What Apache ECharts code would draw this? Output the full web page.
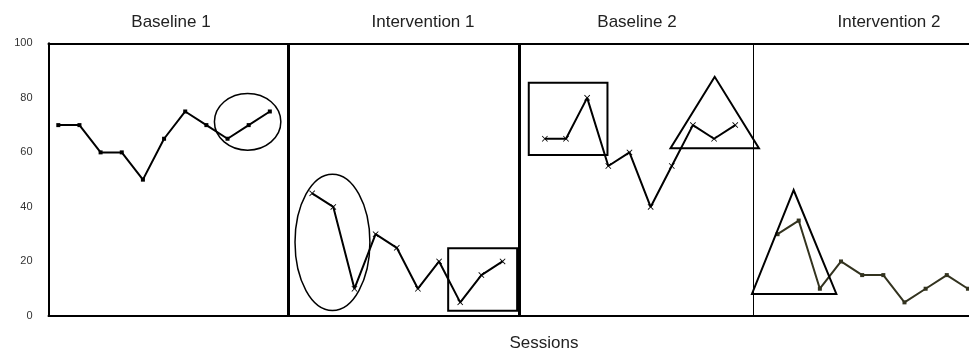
<!DOCTYPE html>
<html>
<head>
<meta charset="utf-8">
<script src="https://cdn.jsdelivr.net/npm/echarts@6/dist/echarts.min.js"></script>
<style>
html,body{margin:0;padding:0;background:#fff;}
#chart{width:969px;height:352px;}
</style>
</head>
<body>
<div id="chart"></div>
<script>
// ---- data ----
const phaseNames = ['Baseline 1', 'Intervention 1', 'Baseline 2', 'Intervention 2'];
const phaseStartSession = [1, 13, 24, 35];
const baseline1 = [70, 70, 60, 60, 50, 65, 75, 70, 65, 70, 75];
const intervention1 = [45, 40, 10, 30, 25, 10, 20, 5, 15, 20];
const baseline2 = [65, 65, 80, 55, 60, 40, 55, 70, 65, 70];
const intervention2 = [30, 35, 10, 20, 15, 15, 5, 10, 15, 10];
const phaseChangeLines = [11.85, 22.81, 33.87];
const yTicks = [0, 20, 40, 60, 80, 100];
const xAxisTitle = 'Sessions';

// annotations in data units (session, value)
const ellipses = [[9.95, 71.2, 1.57, 10.4], [13.96, 27.0, 1.77, 25.0]];
const rects = [[19.43, 24.8, 22.69, 1.9], [23.24, 85.5, 26.96, 59.0]];
const triangles = [
  [[32.03, 87.7], [29.94, 61.5], [34.12, 61.5]],
  [[35.76, 46.2], [33.79, 8.1], [37.78, 8.1]]
];

// ---- chart ----
const chart = echarts.init(document.getElementById('chart'));
const phaseData = [baseline1, intervention1, baseline2, intervention2];
const crossPath = 'path://M0,1L1,0L5,4L9,0L10,1L6,5L10,9L9,10L5,6L1,10L0,9L4,5Z';
const lineColors = ['#000', '#000', '#000', '#33331f'];
const symbols = ['rect', crossPath, crossPath, 'rect'];
const symbolSizes = [4, 6, 6, 4];

const series = phaseData.map((vals, p) => ({
  type: 'line',
  data: vals.map((v, i) => [phaseStartSession[p] + i, v]),
  symbol: symbols[p],
  symbolSize: symbolSizes[p],
  showSymbol: true,
  lineStyle: { color: lineColors[p], width: 2 },
  itemStyle: { color: lineColors[p] },
  emphasis: { disabled: true },
  silent: true,
  z: 3
}));

series[0].markLine = {
  silent: true,
  symbol: ['none', 'none'],
  label: { show: false },
  emphasis: { disabled: true },
  data: phaseChangeLines.map((x, i) => ({
    xAxis: x,
    lineStyle: { color: '#000', type: 'solid', width: i < 2 ? 3 : 1 }
  }))
};

const fontFam = '"Liberation Sans", Arial, sans-serif';

chart.setOption({
  animation: false,
  grid: { left: 48.5, right: 0, top: 43.3, bottom: 36 },
  xAxis: [{
    type: 'value', min: 0.537, max: 44.05,
    axisLine: { show: true, onZero: false, lineStyle: { color: '#000', width: 2 } },
    axisTick: { show: false }, axisLabel: { show: false }, splitLine: { show: false }
  }, {
    type: 'value', position: 'top', min: 0.537, max: 44.05,
    axisLine: { show: true, onZero: false, lineStyle: { color: '#000', width: 2 } },
    axisTick: { show: false }, axisLabel: { show: false }, splitLine: { show: false }
  }],
  yAxis: {
    type: 'value', min: yTicks[0], max: yTicks[yTicks.length - 1],
    interval: yTicks[1] - yTicks[0],
    axisLine: { show: true, lineStyle: { color: '#000', width: 2 } },
    axisTick: { show: false }, splitLine: { show: false },
    axisLabel: { color: '#333', fontSize: 11, fontFamily: fontFam, margin: 16 }
  },
  series: series
});

// annotations + texts
const toPx = (pt) => chart.convertToPixel({ gridIndex: 0 }, pt);
const graphics = [];
ellipses.forEach(([cx, cy, rx, ry]) => {
  const c = toPx([cx, cy]);
  const e = toPx([cx + rx, cy + ry]);
  graphics.push({
    type: 'ellipse', silent: true, z: 10,
    shape: { cx: c[0], cy: c[1], rx: Math.abs(e[0] - c[0]), ry: Math.abs(e[1] - c[1]) },
    style: { fill: 'none', stroke: '#000', lineWidth: 1.5 }
  });
});
rects.forEach(([x1, y1, x2, y2]) => {
  const a = toPx([x1, y1]);
  const b = toPx([x2, y2]);
  graphics.push({
    type: 'rect', silent: true, z: 10,
    shape: { x: Math.min(a[0], b[0]), y: Math.min(a[1], b[1]), width: Math.abs(b[0] - a[0]), height: Math.abs(b[1] - a[1]) },
    style: { fill: 'none', stroke: '#000', lineWidth: 2 }
  });
});
triangles.forEach((pts) => {
  graphics.push({
    type: 'polygon', silent: true, z: 10,
    shape: { points: pts.map(toPx) },
    style: { fill: 'none', stroke: '#000', lineWidth: 2 }
  });
});
const titleCenters = [171, 423, 637, 889];
phaseNames.forEach((name, i) => {
  graphics.push({
    type: 'text', silent: true, x: titleCenters[i], y: 22,
    style: { text: name, fill: '#222', font: '17px ' + fontFam, align: 'center', verticalAlign: 'middle' }
  });
});
graphics.push({
  type: 'text', silent: true, x: 544, y: 343,
  style: { text: xAxisTitle, fill: '#222', font: '17px ' + fontFam, align: 'center', verticalAlign: 'middle' }
});
chart.setOption({ graphic: graphics });
</script>
</body>
</html>
